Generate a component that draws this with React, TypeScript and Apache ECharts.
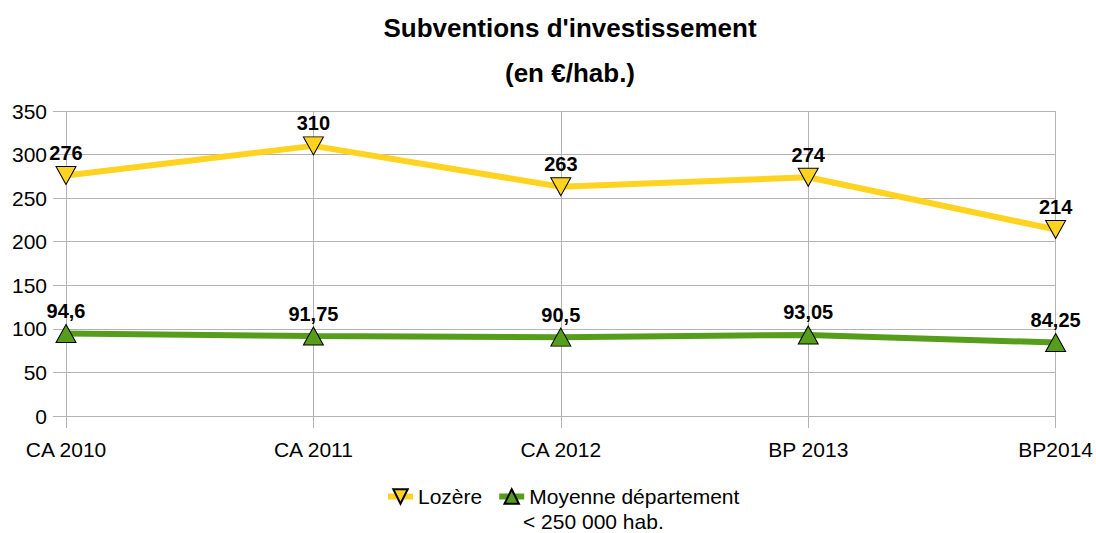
import React, { useEffect, useRef } from "react";
import * as echarts from "echarts";

const categories = ["CA 2010", "CA 2011", "CA 2012", "BP 2013", "BP2014"];
const lozere = [276, 310, 263, 274, 214];
const moyenne = [94.6, 91.75, 90.5, 93.05, 84.25];
const yTicks = { min: 0, max: 350, interval: 50 };
const seriesNames = ["Lozère", "Moyenne département"];
const legendSecondLine = "< 250 000 hab.";

const fmt = (v: number) => String(v).replace(".", ",");

export default function App() {
  const ref = useRef<HTMLDivElement>(null);
  useEffect(() => {
    const chart = echarts.init(ref.current!, undefined, { renderer: "svg" });
    const font = "'Liberation Sans', Arial, sans-serif";
    const labelCfg = {
      show: true,
      position: "top",
      distance: 3,
      formatter: (p: any) => fmt(p.value),
      fontFamily: font,
      fontSize: 20,
      fontWeight: "bold",
      color: "#000",
    };
    chart.setOption({
      animation: false,
      backgroundColor: "#ffffff",
      textStyle: { fontFamily: font },
      title: {
        text: "Subventions d'investissement\n(en €/hab.)",
        left: 565,
        textAlign: "center",
        top: 0,
        textStyle: {
          fontFamily: font,
          fontSize: 26,
          fontWeight: "bold",
          color: "#000",
          lineHeight: 45,
        },
      },
      grid: { left: 66, right: 37, top: 111, bottom: 117, containLabel: false },
      legend: {
        left: 380,
        top: 481,
        itemWidth: 25,
        itemHeight: 18,
        itemGap: 14,
        textStyle: { fontFamily: font, fontSize: 21, color: "#000" },
        lineStyle: { width: 6 },
        data: seriesNames,
      },
      graphic: [
        {
          type: "text",
          left: 523,
          top: 511,
          style: { text: legendSecondLine, font: `21px ${font}`, fill: "#000" },
        },
      ],
      xAxis: {
        type: "category",
        data: categories,
        boundaryGap: false,
        axisLine: { show: true, lineStyle: { color: "#b3b3b3", width: 1 } },
        axisTick: { show: true, length: 12, lineStyle: { color: "#b3b3b3" } },
        splitLine: { show: true, lineStyle: { color: "#b3b3b3", width: 1 } },
        axisLabel: { fontFamily: font, fontSize: 21, color: "#000", margin: 23 },
      },
      yAxis: {
        type: "value",
        min: yTicks.min,
        max: yTicks.max,
        interval: yTicks.interval,
        axisLine: { show: false },
        axisTick: { show: true, length: 13, lineStyle: { color: "#b3b3b3" } },
        splitLine: { show: true, lineStyle: { color: "#b3b3b3", width: 1 } },
        axisLabel: { fontFamily: font, fontSize: 21, color: "#000", margin: 19 },
      },
      series: [
        {
          name: seriesNames[0],
          type: "line",
          data: lozere,
          symbol: "triangle",
          symbolRotate: 180,
          symbolSize: [20, 18],
          lineStyle: { color: "#ffd320", width: 6 },
          itemStyle: { color: "#ffd320", borderColor: "#000", borderWidth: 1 },
          label: labelCfg,
        },
        {
          name: seriesNames[1],
          type: "line",
          data: moyenne,
          symbol: "triangle",
          symbolSize: [20, 18],
          lineStyle: { color: "#579d1c", width: 6 },
          itemStyle: { color: "#579d1c", borderColor: "#000", borderWidth: 1 },
          label: labelCfg,
        },
      ],
    });
    return () => chart.dispose();
  }, []);
  return (
    <div
      ref={ref}
      style={{ position: "fixed", left: 0, top: 0, width: 1096, height: 533 }}
    />
  );
}
